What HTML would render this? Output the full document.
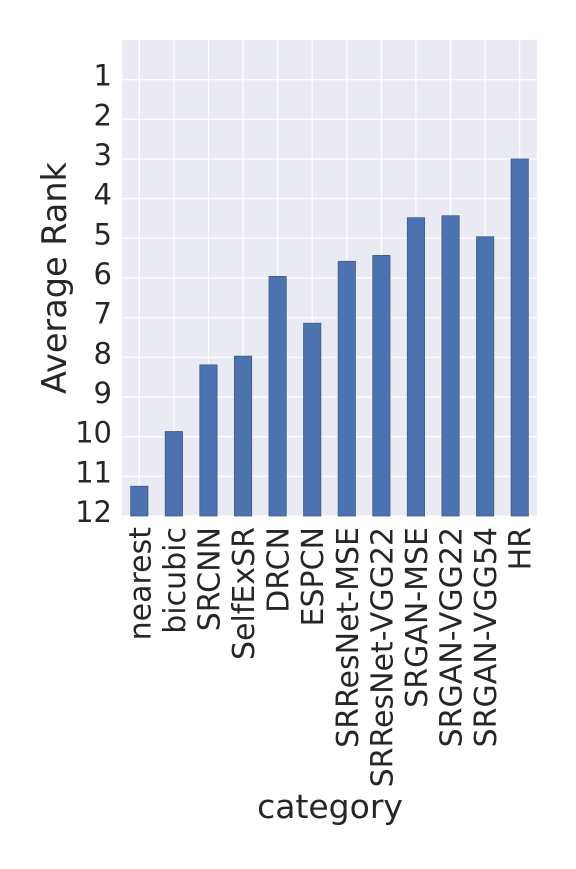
<!DOCTYPE html>
<html><head><meta charset="utf-8"><style>
html,body{margin:0;padding:0;background:#fff}
svg text{font-family:"DejaVu Sans","Liberation Sans",sans-serif;fill:#262626}
</style></head><body>
<svg id="chart" width="576" height="864" xmlns="http://www.w3.org/2000/svg">
<rect x="122" y="40" width="415" height="476" fill="#EAEAF2"/>
<g id="grid"></g><g id="bars"></g><g id="ticks"></g>
<text x="0" y="0" font-size="33.5" text-anchor="middle" transform="translate(66,278) rotate(-90)">Average Rank</text>
<text x="330" y="818" font-size="33" text-anchor="middle">category</text>
</svg>
<script>
const categories=["nearest","bicubic","SRCNN","SelfExSR","DRCN","ESPCN","SRResNet-MSE","SRResNet-VGG22","SRGAN-MSE","SRGAN-VGG22","SRGAN-VGG54","HR"];
const ranks=[11.25,9.87,8.19,7.97,5.96,7.14,5.58,5.43,4.48,4.43,4.96,3.0];
const yTicks=[1,2,3,4,5,6,7,8,9,10,11,12];
const NS="http://www.w3.org/2000/svg";
const L=122,R=537,T=40,B=516,yMin=0,yMax=12;
const y=v=>T+(v-yMin)/(yMax-yMin)*(B-T);
const step=(R-L)/categories.length;
const xc=i=>L+step*(i+0.5);
const bw=step*0.5;
function mk(t,a,p){const e=document.createElementNS(NS,t);for(const k in a)e.setAttribute(k,a[k]);p.appendChild(e);return e;}
const grid=document.getElementById('grid'),bars=document.getElementById('bars'),ticks=document.getElementById('ticks');
yTicks.forEach(v=>{
 const g=mk('line',{x1:L,x2:R,y1:y(v),y2:y(v),stroke:'#fff','stroke-width':1.2},grid);
 
 
 const t=mk('text',{x:112,y:y(v)+6,'font-size':29,'text-anchor':'end'},ticks);
 t.textContent=v;
 
 
});
categories.forEach((c,i)=>{
 const g=mk('line',{x1:xc(i),x2:xc(i),y1:T,y2:B,stroke:'#fff','stroke-width':1.2},grid);
 
 
 const b=mk('rect',{x:xc(i)-bw/2,y:y(ranks[i]),width:bw,height:B-y(ranks[i]),fill:'#4C72B0',stroke:'#3d5c8e','stroke-width':0.8},bars);
 
 
 const t=mk('text',{x:0,y:0,'font-size':30,'text-anchor':'end',transform:`translate(${xc(i)+11},527) rotate(-90)`},ticks);
 t.textContent=c;
 
 
});
</script>
</body></html>
